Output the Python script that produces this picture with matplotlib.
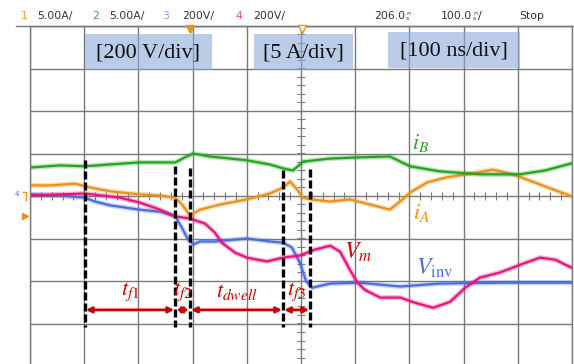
import numpy as np
import matplotlib
matplotlib.use("Agg")
import matplotlib.pyplot as plt
from matplotlib.patches import Rectangle
from matplotlib.lines import Line2D

plt.rcParams['mathtext.fontset'] = 'stix'

W, H = 574, 364

# time in ns from the left edge of the screen (100 ns/div), level in screen divisions
t_ib = [0, 55, 101, 201, 268, 286, 301, 332, 400, 443, 467, 485, 504, 553, 609, 664,
        701, 756, 830, 904, 950, 1000]
ib = [0.67, 0.72, 0.70, 0.79, 0.79, 0.91, 1.00, 0.93, 0.84, 0.74, 0.65, 0.60, 0.81, 0.88,
      0.91, 0.93, 0.70, 0.58, 0.51, 0.51, 0.60, 0.77]

t_ia = [0, 37, 83, 111, 148, 201, 240, 268, 282, 295, 314, 351, 400, 443, 467, 480, 493,
        504, 517, 554, 590, 627, 664, 683, 701, 733, 769, 806, 854, 891, 941, 1000]
ia = [0.25, 0.25, 0.29, 0.20, 0.11, 0.04, 0.01, -0.04, -0.22, -0.46, -0.32, -0.20, -0.08,
      0.06, 0.20, 0.34, 0.15, -0.04, -0.08, -0.13, -0.08, -0.20, -0.32, -0.13, 0.08, 0.32,
      0.44, 0.51, 0.62, 0.51, 0.27, -0.01]

t_vinv = [0, 55, 101, 120, 148, 201, 240, 268, 280, 292, 301, 314, 341, 400, 443, 467,
          483, 498, 509, 520, 554, 609, 683, 756, 867, 1000]
vinv = [0.04, 0.01, -0.04, -0.13, -0.22, -0.32, -0.37, -0.48, -0.74, -1.03, -1.14, -1.07,
        -1.07, -1.00, -1.07, -1.10, -1.21, -1.57, -1.99, -2.16, -2.06, -2.04, -2.13, -2.06,
        -2.04, -2.04]

t_vm = [0, 101, 166, 201, 240, 268, 295, 323, 341, 354, 378, 400, 437, 467, 498, 526, 554,
        572, 590, 603, 618, 646, 683, 710, 744, 775, 803, 830, 867, 904, 941, 969, 1000]
vm = [0.01, 0.06, -0.04, -0.15, -0.32, -0.48, -0.53, -0.65, -0.86, -1.10, -1.33, -1.45,
      -1.54, -1.45, -1.40, -1.26, -1.17, -1.31, -1.73, -2.02, -2.21, -2.39, -2.39, -2.51,
      -2.63, -2.49, -2.16, -1.92, -1.80, -1.62, -1.45, -1.50, -1.69]

# switching instants (ns) and the top of each marker line (div)
edges = [101, 268, 295, 467, 517]
edge_tops = [0.85, 0.71, 0.66, 0.61, 0.64]
intervals = [r'$t_{f1}$', r'$t_{f2}$', r'$t_{dwell}$', r'$t_{f3}$']

header = [("1", "#f0a030", 21), ("5.00A/", "#333333", 37), ("2", "#3cb043", 92),
          ("5.00A/", "#333333", 109), ("3", "#8c9be6", 162), ("200V/", "#333333", 182),
          ("4", "#e8489a", 235), ("200V/", "#333333", 253), ("Stop", "#333333", 519)]
# readouts with a stacked "ns" unit: (value, right edge, trailing slash)
readouts = [("206.0", 405, False), ("100.0", 472, True)]
scales = [("[200 V/div]", 85, 34, 127, 36), ("[5 A/div]", 254, 34, 99, 36),
          ("[100 ns/div]", 388, 32, 132, 36)]

C_IA = "#e8921c"
C_IB = "#22a51f"
C_VINV = "#4a6ee0"
C_VM = "#e5157c"
C_RED = "#c80000"
GRID = "#7a7a7a"

fig = plt.figure(figsize=(W / 100, H / 100), dpi=100)
ax = fig.add_axes([30 / W, 1 - 366 / H, 542 / W, 340 / H])
ax.set_xlim(0, 1000)
ax.set_ylim(-4, 4)
ax.set_xticks(np.arange(0, 1001, 100))
ax.set_yticks(np.arange(-4, 5, 1))
ax.tick_params(length=0, labelbottom=False, labelleft=False)
ax.grid(True, color=GRID, lw=1.0)
for s in ax.spines.values():
    s.set_color(GRID)
    s.set_linewidth(1.0)

# fine ticks along the centre lines
ax.plot(np.arange(0, 1001, 20), np.zeros(51), ls='none', marker='|', ms=6, mew=0.8,
        color=GRID, clip_on=False)
ax.plot(np.full(41, 500), np.arange(-4, 4.01, 0.2), ls='none', marker='_', ms=6, mew=0.8,
        color=GRID, clip_on=False)

for t, v, c in [(t_ia, ia, C_IA), (t_ib, ib, C_IB), (t_vinv, vinv, C_VINV), (t_vm, vm, C_VM)]:
    ax.plot(t, v, color=c, lw=3.6, alpha=0.3, solid_joinstyle='round')
    ax.plot(t, v, color=c, lw=1.6, solid_joinstyle='round')

for t, top in zip(edges, edge_tops):
    ax.plot([t, t], [top, -3.08], color='black', lw=2.4, ls=(0, (2.4, 0.9)))

arrow_y = -2.68
for i, lab in enumerate(intervals):
    a, b = edges[i], edges[i + 1]
    ax.annotate('', xy=(a + 2, arrow_y), xytext=(b - 2, arrow_y),
                arrowprops=dict(arrowstyle='<|-|>', color=C_RED, lw=2.0,
                                mutation_scale=8, shrinkA=0, shrinkB=0))
    ax.text((a + b) / 2, -2.25, lab, color=C_RED, fontsize=16, ha='center', va='center')

ax.text(720, 1.25, r'$i_B$', color=C_IB, fontsize=16, ha='center', va='center')
ax.text(723, -0.40, r'$i_A$', color=C_IA, fontsize=16, ha='center', va='center')
ax.text(605, -1.32, r'$V_m$', color="#d00000", fontsize=17, ha='center', va='center')
ax.text(747, -1.70, r'$V_{\rm inv}$', color=C_VINV, fontsize=17, ha='center', va='center')

# scope header line
fig.add_artist(Line2D([16 / W, 1], [1 - 26 / H, 1 - 26 / H], color=GRID, lw=1.0))
for txt, col, x in header:
    fig.text(x / W, 1 - 16 / H, txt, color=col, fontsize=7.8, ha='left', va='center',
             family='DejaVu Sans')
for txt, x, slash in readouts:
    fig.text(x / W, 1 - 16 / H, txt, color="#333333", fontsize=7.8, ha='right',
             va='center', family='DejaVu Sans')
    fig.text((x + 1) / W, 1 - 13.5 / H, 'n', color="#333333", fontsize=4.5, ha='left',
             va='center')
    fig.text((x + 1) / W, 1 - 18.5 / H, 's', color="#333333", fontsize=4.5, ha='left',
             va='center')
    if slash:
        fig.text((x + 6) / W, 1 - 16 / H, '/', color="#333333", fontsize=7.8, ha='left',
                 va='center')

# trigger markers
fig.add_artist(Line2D([190 / W], [1 - 29 / H], marker='v', ms=6, color=C_IA, ls='none'))
fig.add_artist(Line2D([302 / W], [1 - 29 / H], marker='v', ms=6, mfc='white', mec=C_IA,
                      ls='none'))

# channel markers on the left edge
fig.text(17 / W, 1 - 194 / H, '4', color=C_VINV, fontsize=5, ha='center', va='center')
fig.add_artist(Line2D([23 / W, 26 / W, 26 / W], [1 - 192 / H, 1 - 192 / H, 1 - 200 / H],
                      color=C_IA, lw=1.0))
fig.add_artist(Line2D([25 / W], [1 - 216 / H], marker='>', ms=4, color=C_IA, ls='none'))

for txt, x0, y0, w, h in scales:
    fig.add_artist(Rectangle((x0 / W, 1 - (y0 + h) / H), w / W, h / H,
                             transform=fig.transFigure, facecolor="#8eaadb", alpha=0.6,
                             edgecolor='none'))
    fig.text((x0 + w / 2) / W, 1 - (y0 + h / 2 + 1) / H, txt, fontsize=16,
             family='Liberation Serif', ha='center', va='center', color='#111111')

fig.savefig("out.png", dpi=100, facecolor='white')
